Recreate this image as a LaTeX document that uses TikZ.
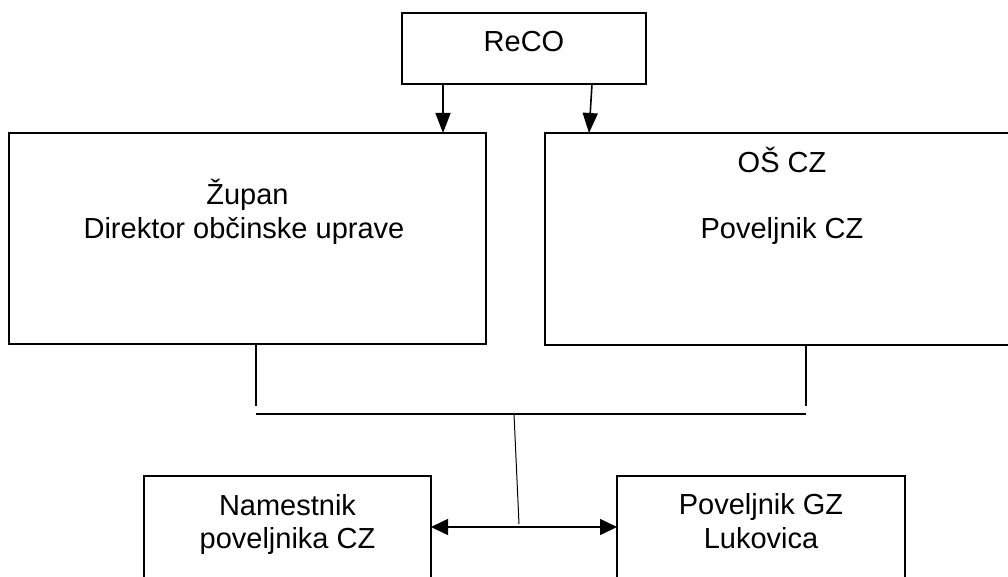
\documentclass[tikz,border=0pt]{standalone}
\usepackage{fontspec}
\setmainfont{Liberation Sans}
\usetikzlibrary{arrows.meta}
\begin{document}
\begin{tikzpicture}[x=1pt,y=-1pt,
  box/.style={draw=black,line width=1.6pt,fill=none,inner sep=0pt,outer sep=0pt},
  txt/.style={anchor=base,inner sep=0pt,font=\fontsize{29}{34}\selectfont},
  conn/.style={draw=black,line width=1.3pt},
  arr/.style={draw=black,line width=1.6pt,-{Triangle[length=20pt,width=15pt]}},
  darr/.style={draw=black,line width=1.6pt,{Triangle[length=17pt,width=16pt]}-{Triangle[length=17pt,width=16pt]}}]
\useasboundingbox (0,0) rectangle (1008,577);
% boxes
\node[box,minimum width=244pt,minimum height=71pt] (reco) at (524,48.5) {};
\node[box,minimum width=477pt,minimum height=211pt] (zupan) at (247.5,238.5) {};
\node[box,minimum width=474pt,minimum height=212pt] (os) at (782,239) {};
\node[box,minimum width=287pt,minimum height=144pt] (nam) at (287.5,548) {};
\node[box,minimum width=288pt,minimum height=144pt] (pov) at (761,548) {};
% texts
\node[txt] (t1) at (524,52) {ReCO};
\node[txt] (t2) at (247.5,205) {Župan};
\node[txt] (t3) at (244,239) {Direktor občinske uprave};
\node[txt] (t4) at (782,173) {OŠ CZ};
\node[txt] (t5) at (782,239) {Poveljnik CZ};
\node[txt] (t6) at (287.5,515) {Namestnik};
\node[txt] (t7) at (287.5,548) {poveljnika CZ};
\node[txt] (t8) at (761,514) {Poveljnik GZ};
\node[txt] (t9) at (761,548) {Lukovica};
% arrows from ReCO
\coordinate (a1s) at (443,84);
\coordinate (a1e) at (443,133);
\coordinate (a2s) at (592,84);
\coordinate (a2e) at (589,133);
\draw[arr] (a1s) -- (a1e);
\draw[arr] (a2s) -- (a2e);
% connector lines
\coordinate (l1) at (256,345);
\coordinate (l2) at (256,406);
\coordinate (r1) at (806,345);
\coordinate (r2) at (806,406);
\coordinate (h1) at (256,414);
\coordinate (h2) at (806,414);
\coordinate (c1) at (514,414);
\coordinate (c2) at (519,524);
\draw[conn] (l1) -- (l2);
\draw[conn] (r1) -- (r2);
\draw[conn] (h1) -- (h2);
\draw[draw=black,line width=1pt] (c1) -- (c2);
% double arrow
\draw[darr] (nam.east |- 0,527) -- (pov.west |- 0,527);
\end{tikzpicture}
\end{document}
